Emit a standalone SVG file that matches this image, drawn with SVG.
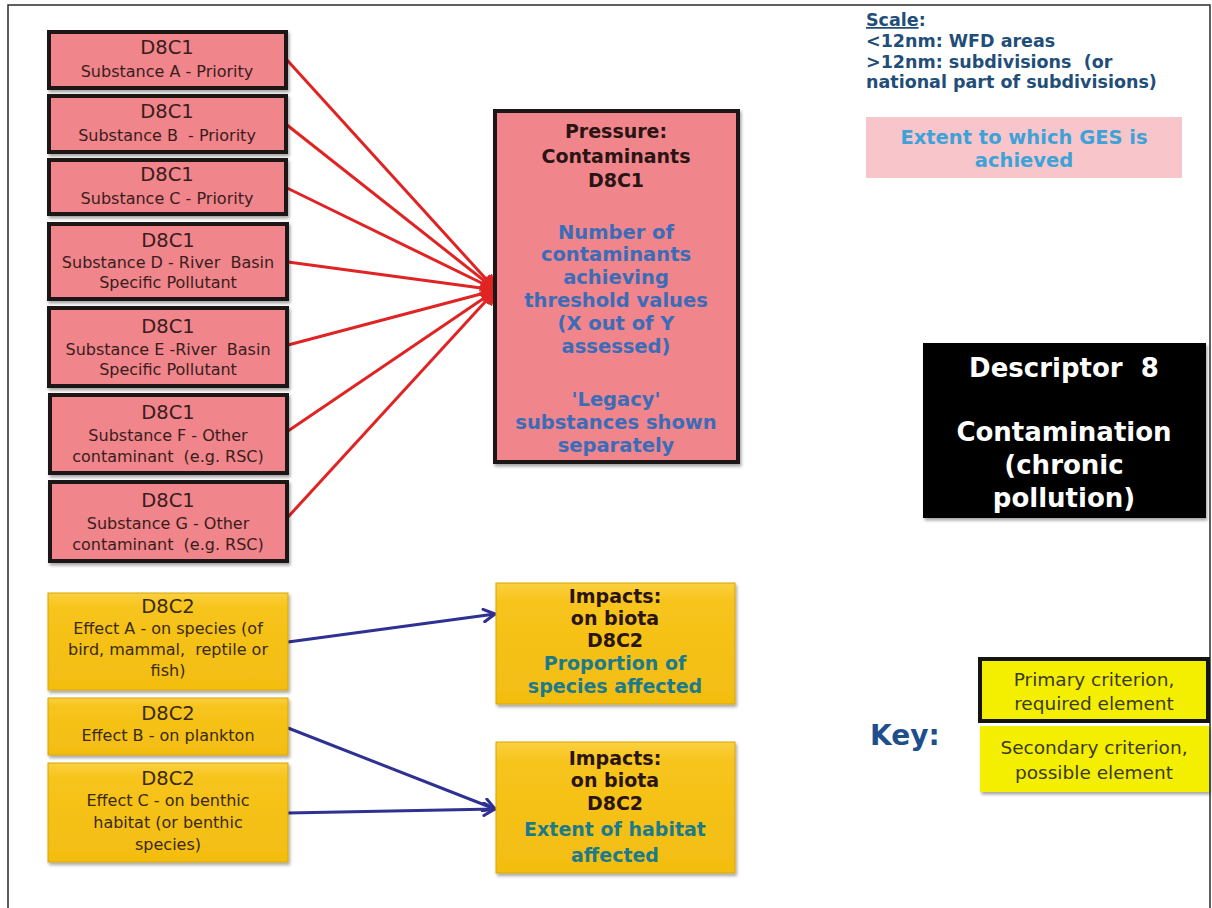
<svg xmlns="http://www.w3.org/2000/svg" width="1212" height="908" viewBox="0 0 1212 908">
  <defs>
    <style>
      .frame { fill: none; stroke: #2b2b2b; stroke-width: 1.5; }
      .crit1 { fill: #f0858b; stroke: #1c1414; stroke-width: 4; }
      .eff { fill: url(#gold); stroke: #d9a400; stroke-width: 1; }
      .t { font-family: "DejaVu Sans", Verdana, sans-serif; text-anchor: middle; }
      .code { font-size: 19.5px; fill: #3a1c1c; }
      .sub { font-size: 16px; fill: #3a1c1c; }
      .effcode { font-size: 19.5px; fill: #3a2a10; }
      .effsub { font-size: 16px; fill: #3a2a10; }
      .hd { font-size: 19px; font-weight: bold; fill: #2a1414; }
      .blue { font-size: 19.5px; font-weight: bold; fill: #3b6cb8; }
      .teal { font-size: 19px; font-weight: bold; fill: #1d7a88; }
      .red-link { stroke: #e02424; stroke-width: 3; fill: none; }
      .blue-link { stroke: #2e3192; stroke-width: 3; fill: none; }
      .scale { font-family: "DejaVu Sans", Verdana, sans-serif; font-size: 17.5px; font-weight: bold; fill: #1f4e79; }
      .ges { font-size: 19.5px; font-weight: bold; fill: #3ea2d8; }
      .desc { font-size: 26px; font-weight: bold; fill: #ffffff; }
      .keybox { font-size: 18.5px; fill: #3a3a1a; }
    </style>
    <linearGradient id="gold" x1="0" y1="0" x2="0" y2="1">
      <stop offset="0" stop-color="#fbd040"/>
      <stop offset="0.15" stop-color="#f7c41c"/>
      <stop offset="1" stop-color="#f3bd10"/>
    </linearGradient>
    <filter id="shadow" x="-10%" y="-10%" width="125%" height="130%">
      <feDropShadow dx="1.5" dy="2.5" stdDeviation="1.5" flood-color="#000" flood-opacity="0.35"/>
    </filter>
    <marker id="redHead" viewBox="0 0 12 12" refX="11" refY="6" markerWidth="5.5" markerHeight="5.5" orient="auto" markerUnits="strokeWidth">
      <path d="M0,0 L12,6 L0,12 z" fill="#e02424"/>
    </marker>
    <marker id="blueHead" viewBox="0 0 12 12" refX="11" refY="6" markerWidth="5" markerHeight="5" orient="auto" markerUnits="strokeWidth">
      <path d="M2,1 L11,6 L2,11" fill="none" stroke="#2e3192" stroke-width="2.4" stroke-linecap="round" stroke-linejoin="round"/>
    </marker>
  </defs>

  <rect width="1212" height="908" fill="#ffffff"/>
  <rect class="frame" x="8" y="5" width="1202" height="930"/>

  <!-- connectors -->
  <g id="connectors">
    <line class="red-link" x1="287" y1="60" x2="496" y2="290" marker-end="url(#redHead)"/>
    <line class="red-link" x1="287" y1="125" x2="496" y2="290" marker-end="url(#redHead)"/>
    <line class="red-link" x1="287" y1="188" x2="496" y2="290" marker-end="url(#redHead)"/>
    <line class="red-link" x1="288" y1="262" x2="496" y2="290" marker-end="url(#redHead)"/>
    <line class="red-link" x1="288" y1="345" x2="496" y2="290" marker-end="url(#redHead)"/>
    <line class="red-link" x1="288" y1="431" x2="496" y2="290" marker-end="url(#redHead)"/>
    <line class="red-link" x1="288" y1="517" x2="496" y2="290" marker-end="url(#redHead)"/>
    <line class="blue-link" x1="288" y1="642" x2="495" y2="614" marker-end="url(#blueHead)"/>
    <line class="blue-link" x1="288" y1="728" x2="495" y2="809" marker-end="url(#blueHead)"/>
    <line class="blue-link" x1="288" y1="813" x2="495" y2="809" marker-end="url(#blueHead)"/>
  </g>

  <!-- D8C1 substances -->
  <g id="subA">
    <rect class="crit1" x="49" y="32" width="237" height="56" filter="url(#shadow)"/>
    <text class="t code" x="167" y="54">D8C1</text>
    <text class="t sub" x="167" y="77">Substance A - Priority</text>
  </g>
  <g id="subB">
    <rect class="crit1" x="49" y="96" width="237" height="56" filter="url(#shadow)"/>
    <text class="t code" x="167" y="118">D8C1</text>
    <text class="t sub" x="167" y="141" xml:space="preserve">Substance B  - Priority</text>
  </g>
  <g id="subC">
    <rect class="crit1" x="49" y="160" width="237" height="54" filter="url(#shadow)"/>
    <text class="t code" x="167" y="181">D8C1</text>
    <text class="t sub" x="167" y="204">Substance C - Priority</text>
  </g>
  <g id="subD">
    <rect class="crit1" x="49" y="224" width="238" height="75" filter="url(#shadow)"/>
    <text class="t code" x="168" y="247">D8C1</text>
    <text class="t sub" x="168" y="268" xml:space="preserve">Substance D - River  Basin</text>
    <text class="t sub" x="168" y="288">Specific Pollutant</text>
  </g>
  <g id="subE">
    <rect class="crit1" x="49" y="308" width="238" height="78" filter="url(#shadow)"/>
    <text class="t code" x="168" y="333">D8C1</text>
    <text class="t sub" x="168" y="355" xml:space="preserve">Substance E -River  Basin</text>
    <text class="t sub" x="168" y="375">Specific Pollutant</text>
  </g>
  <g id="subF">
    <rect class="crit1" x="50" y="395" width="237" height="78" filter="url(#shadow)"/>
    <text class="t code" x="168" y="419">D8C1</text>
    <text class="t sub" x="168" y="441">Substance F - Other</text>
    <text class="t sub" x="168" y="462" xml:space="preserve">contaminant  (e.g. RSC)</text>
  </g>
  <g id="subG">
    <rect class="crit1" x="50" y="482" width="237" height="79" filter="url(#shadow)"/>
    <text class="t code" x="168" y="507">D8C1</text>
    <text class="t sub" x="168" y="529">Substance G - Other</text>
    <text class="t sub" x="168" y="550" xml:space="preserve">contaminant  (e.g. RSC)</text>
  </g>

  <!-- pressure criterion -->
  <g id="pressure">
    <rect class="crit1" x="495" y="111" width="243" height="351" filter="url(#shadow)"/>
    <text class="t hd" x="616" y="138">Pressure:</text>
    <text class="t hd" x="616" y="163">Contaminants</text>
    <text class="t hd" x="616" y="187">D8C1</text>
    <text class="t blue" x="616" y="239">Number of</text>
    <text class="t blue" x="616" y="261">contaminants</text>
    <text class="t blue" x="616" y="284">achieving</text>
    <text class="t blue" x="616" y="307">threshold values</text>
    <text class="t blue" x="616" y="330">(X out of Y</text>
    <text class="t blue" x="616" y="353">assessed)</text>
    <text class="t blue" x="616" y="406">'Legacy'</text>
    <text class="t blue" x="616" y="429">substances shown</text>
    <text class="t blue" x="616" y="452">separately</text>
  </g>

  <!-- D8C2 effects -->
  <g id="effA">
    <rect class="eff" x="48" y="593" width="240" height="97" filter="url(#shadow)"/>
    <text class="t effcode" x="168" y="613">D8C2</text>
    <text class="t effsub" x="168" y="634">Effect A - on species (of</text>
    <text class="t effsub" x="168" y="655" xml:space="preserve">bird, mammal,  reptile or</text>
    <text class="t effsub" x="168" y="676">fish)</text>
  </g>
  <g id="effB">
    <rect class="eff" x="48" y="698" width="240" height="57" filter="url(#shadow)"/>
    <text class="t effcode" x="168" y="720">D8C2</text>
    <text class="t effsub" x="168" y="741">Effect B - on plankton</text>
  </g>
  <g id="effC">
    <rect class="eff" x="48" y="763" width="240" height="99" filter="url(#shadow)"/>
    <text class="t effcode" x="168" y="785">D8C2</text>
    <text class="t effsub" x="168" y="806">Effect C - on benthic</text>
    <text class="t effsub" x="168" y="828">habitat (or benthic</text>
    <text class="t effsub" x="168" y="850">species)</text>
  </g>

  <!-- impact criteria -->
  <g id="impact1">
    <rect class="eff" x="496" y="583" width="239" height="121" filter="url(#shadow)"/>
    <text class="t hd" x="615" y="603">Impacts:</text>
    <text class="t hd" x="615" y="625">on biota</text>
    <text class="t hd" x="615" y="647">D8C2</text>
    <text class="t teal" x="615" y="670">Proportion of</text>
    <text class="t teal" x="615" y="693">species affected</text>
  </g>
  <g id="impact2">
    <rect class="eff" x="496" y="742" width="239" height="131" filter="url(#shadow)"/>
    <text class="t hd" x="615" y="765">Impacts:</text>
    <text class="t hd" x="615" y="787">on biota</text>
    <text class="t hd" x="615" y="810">D8C2</text>
    <text class="t teal" x="615" y="836">Extent of habitat</text>
    <text class="t teal" x="615" y="862">affected</text>
  </g>

  <!-- scale note -->
  <g id="scale">
    <text class="scale" x="866" y="26"><tspan text-decoration="underline">Scale</tspan>:</text>
    <text class="scale" x="866" y="47">&lt;12nm: WFD areas</text>
    <text class="scale" x="866" y="68" xml:space="preserve">&gt;12nm: subdivisions  (or</text>
    <text class="scale" x="866" y="88">national part of subdivisions)</text>
  </g>
  <g id="ges">
    <rect x="866" y="117" width="316" height="61" fill="#f8c6ca"/>
    <text class="t ges" x="1024" y="144">Extent to which GES is</text>
    <text class="t ges" x="1024" y="167">achieved</text>
  </g>

  <!-- descriptor title -->
  <g id="descriptor">
    <rect x="923" y="343" width="283" height="175" fill="#000000" filter="url(#shadow)"/>
    <text class="t desc" x="1064" y="377" xml:space="preserve">Descriptor  8</text>
    <text class="t desc" x="1064" y="441">Contamination</text>
    <text class="t desc" x="1064" y="474">(chronic</text>
    <text class="t desc" x="1064" y="507">pollution)</text>
  </g>

  <!-- key -->
  <g id="key">
    <text x="870" y="745" font-family="DejaVu Sans, Verdana, sans-serif" font-size="28" font-weight="bold" fill="#1f4e8c">Key:</text>
  </g>
  <g id="keyPrimary">
    <rect x="980" y="659" width="228" height="62" fill="#f4ef00" stroke="#141414" stroke-width="4"/>
    <text class="t keybox" x="1094" y="686">Primary criterion,</text>
    <text class="t keybox" x="1094" y="710">required element</text>
  </g>
  <g id="keySecondary">
    <rect x="980" y="726" width="229" height="66" fill="#f4ef00" filter="url(#shadow)"/>
    <text class="t keybox" x="1094" y="754">Secondary criterion,</text>
    <text class="t keybox" x="1094" y="779">possible element</text>
  </g>
</svg>
